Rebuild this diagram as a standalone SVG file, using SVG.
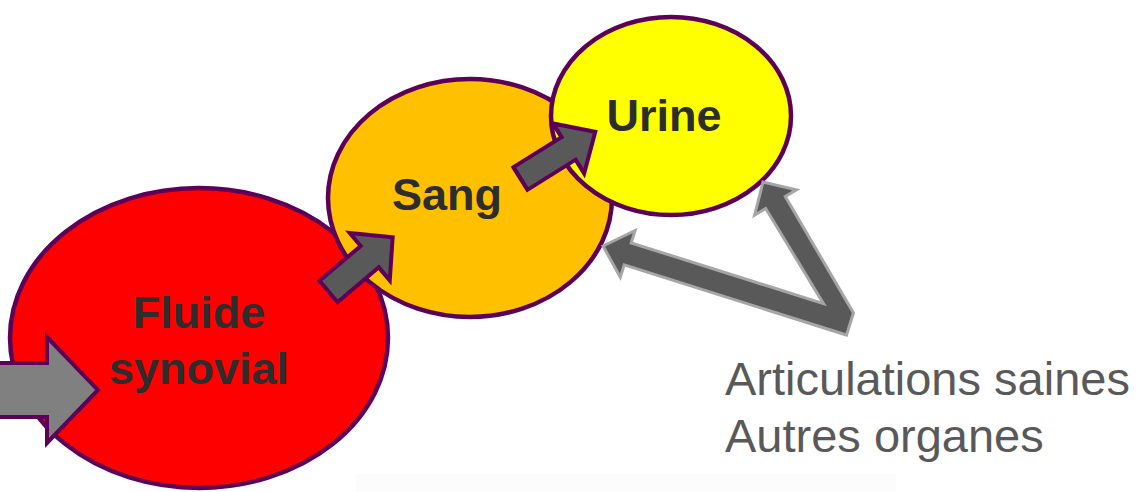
<svg xmlns="http://www.w3.org/2000/svg" width="1145" height="492" viewBox="0 0 1145 492">
<style>
.node{stroke:#5c0058;stroke-width:4.5}
.lbl{font-family:"Liberation Sans",Arial,sans-serif;font-weight:bold;font-size:45px;fill:#2d2d2d;text-anchor:middle}
.arr{fill:#595959;stroke:#5c0058;stroke-width:4;stroke-linejoin:miter}
.src{font-family:"Liberation Sans",Arial,sans-serif;font-size:47px;fill:#595959}
</style>
<defs>
<path id="smallArrow" d="M0,-14 L54,-14 L54,-31 L84,0 L54,31 L54,14 L0,14 Z"/>
</defs>
<rect x="356" y="474" width="540" height="18" fill="#fcfcfc"/>
<g id="fluide">
<ellipse class="node" cx="199" cy="338" rx="189" ry="150" fill="#ff0000"/>
<text class="lbl" x="199" y="328">Fluide</text>
<text class="lbl" x="199" y="384">synovial</text>
</g>
<g id="sang">
<ellipse class="node" cx="470" cy="198" rx="142" ry="119" fill="#ffc000"/>
<text class="lbl" x="447" y="210">Sang</text>
</g>
<g id="urine">
<ellipse class="node" cx="671" cy="116" rx="120" ry="99" fill="#ffff00"/>
<text class="lbl" x="664" y="131">Urine</text>
</g>
<g id="connectors">
<path d="M-6,363 L47,363 L47,337 L98,390 L47,443 L47,417 L-6,417 Z" fill="#808080" stroke="#5c0058" stroke-width="4"/>
<use href="#smallArrow" class="arr" transform="translate(328.5,291.5) rotate(-40.2)"/>
<use href="#smallArrow" class="arr" transform="translate(520.5,178.5) rotate(-32) scale(1.05,0.95)"/>
<path d="M603,246 L635.1,230.5 L631.2,242.9 L823.5,303.6 L765.7,208.5 L754.6,215.2 L763,182 L796.4,189.8 L785.3,196.5 L853.5,313 L846.5,335 L624.2,264.9 L620.3,277.3 Z" fill="#595959" stroke="#a6a6a6" stroke-width="3" stroke-linejoin="miter"/>
</g>
<g id="sources">
<text class="src" x="725" y="395">Articulations saines</text>
<text class="src" x="725" y="452">Autres organes</text>
</g>
</svg>
